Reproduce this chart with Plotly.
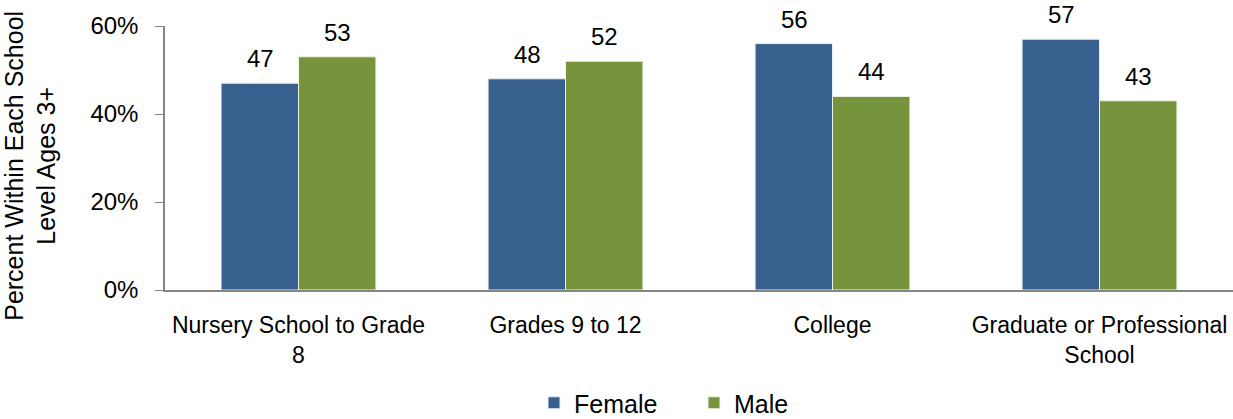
import plotly.graph_objects as go

categories = ["Nursery School to Grade<br>8", "Grades 9 to 12", "College", "Graduate or Professional<br>School"]
female = [47, 48, 56, 57]
male = [53, 52, 44, 43]
y_ticks = [0, 20, 40, 60]
y_tick_labels = ["0%", "20%", "40%", "60%"]
y_title = "Percent Within Each School<br>Level Ages 3+"

FONT = "Liberation Sans, Arial, Helvetica, sans-serif"
BLUE = "#37608f"
GREEN = "#77933c"

fig = go.Figure()
fig.add_trace(go.Bar(name="Female", x=categories, y=female,
                     marker=dict(color=BLUE, line=dict(color="#e8eef5", width=1))))
fig.add_trace(go.Bar(name="Male", x=categories, y=male,
                     marker=dict(color=GREEN, line=dict(color="#eef3e6", width=1))))

# value labels above each bar
for series, shift in ((female, -38.5), (male, 38.5)):
    for cat, val in zip(categories, series):
        fig.add_annotation(x=cat, y=val, text=str(val), showarrow=False,
                           xref="x", yref="y", yanchor="bottom", xshift=shift, yshift=10,
                           borderpad=0,
                           font=dict(size=24, color="#000000", family=FONT))

# y-axis title
fig.add_annotation(x=-0.1256, y=0.47, xref="paper", yref="paper", text=y_title, showarrow=False,
                   textangle=-90, xanchor="center", yanchor="middle",
                   font=dict(size=25, color="#000000", family=FONT))

fig.update_layout(
    width=1233, height=419,
    barmode="group", bargap=0.42, bargroupgap=0,
    plot_bgcolor="white", paper_bgcolor="white",
    margin=dict(l=165, r=0, t=26, b=129, autoexpand=False),
    font=dict(family=FONT, color="#000000"),
    legend=dict(orientation="h", x=0.3455, xanchor="left", y=-0.341, yanchor="top",
                font=dict(size=25), itemwidth=30, traceorder="normal",
                entrywidth=115, entrywidthmode="pixels"),
    showlegend=True,
)
fig.update_xaxes(showline=True, linecolor="#868686", linewidth=1.5, ticks="", showgrid=False,
                 tickfont=dict(size=23), automargin=False, ticklabelstandoff=14)
fig.update_yaxes(range=[0, 60], tickvals=y_ticks, ticktext=y_tick_labels, showline=True,
                 linecolor="#868686", linewidth=1.5, ticks="outside", ticklen=8, tickcolor="#868686",
                 showgrid=False, zeroline=False, tickfont=dict(size=24), automargin=False,
                 ticklabelstandoff=12)

fig.write_html("out.html", config={"displayModeBar": False},
               post_script="document.body.style.margin='0';document.body.style.overflow='hidden';")
